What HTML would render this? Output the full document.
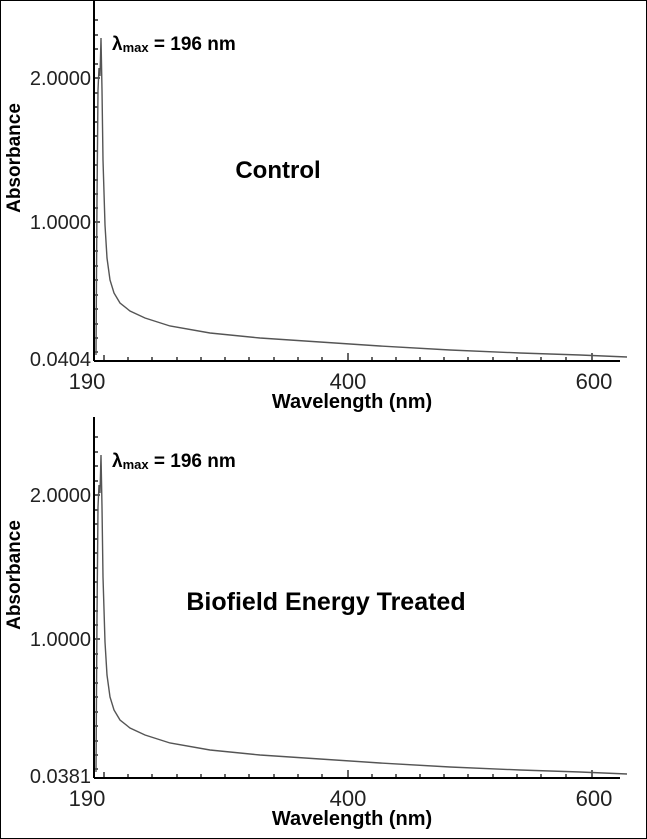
<!DOCTYPE html>
<html><head><style>
body{margin:0;background:#fff;}
svg{display:block;font-family:"Liberation Sans",sans-serif;}
</style></head><body>
<svg width="647" height="839" viewBox="0 0 647 839">
<rect x="0.5" y="0.5" width="646" height="838" fill="#fff" stroke="#000" stroke-width="1"/>
<defs>
<g id="ax">
 <line x1="94" y1="0" x2="94" y2="361" stroke="#000" stroke-width="2"/>
 <line x1="94" y1="361" x2="620" y2="361" stroke="#000" stroke-width="2"/>
 <path d="M94 20h4M94 35h4M94 49h4M94 64h4M94 78h6M94 93h4M94 107h4M94 122h4M94 136h4M94 151h4M94 165h4M94 180h4M94 194h4M94 208h4M94 222h6M94 237h4M94 251h4M94 266h4M94 280h4M94 295h4M94 309h4M94 324h4M94 338h4M94 352h4" stroke="#000" stroke-width="1.2"/>
 <path d="M104 361v-6M128 361v-4M152 361v-4M177 361v-4M201 361v-4M225 361v-4M249 361v-4M274 361v-4M298 361v-4M322 361v-4M348 361v-8M372 361v-4M396 361v-4M420 361v-4M444 361v-4M468 361v-4M493 361v-4M517 361v-4M541 361v-4M566 361v-4M592 361v-8" stroke="#000" stroke-width="1.2"/>
 <path d="M96 355 L97 200 L98 90 L99 68 L100 76 L101 38 L102 90 L103 160 L105 225 L107 258 L110 280 L114 293 L120 303 L130 311 L145 318 L170 326 L210 333 L260 338 L320 342 L380 346 L450 350 L520 353 L580 355 L627 357" fill="none" stroke="#555" stroke-width="1.4"/>
 <text x="112" y="50" font-size="19" font-weight="bold">λ<tspan font-size="13" dy="2">max</tspan><tspan dy="-2"> = 196 nm</tspan></text>
 <text x="91" y="85" font-size="20" text-anchor="end" fill="#222">2.0000</text>
 <text x="91" y="229" font-size="20" text-anchor="end" fill="#222">1.0000</text>
 <text transform="translate(20,158) rotate(-90)" font-size="19" font-weight="bold" text-anchor="middle">Absorbance</text>
 <text x="87" y="389" font-size="22" text-anchor="middle" fill="#222">190</text>
 <text x="348" y="389" font-size="22" text-anchor="middle" fill="#222">400</text>
 <text x="594" y="389" font-size="22" text-anchor="middle" fill="#222">600</text>
 <text x="352" y="408" font-size="20" font-weight="bold" text-anchor="middle">Wavelength (nm)</text>
</g>
</defs>
<use href="#ax"/>
<text x="91" y="366" font-size="20" text-anchor="end" fill="#222">0.0404</text>
<text x="278" y="178" font-size="24" font-weight="bold" text-anchor="middle">Control</text>
<g transform="translate(0,417)"><use href="#ax"/></g>
<text x="91" y="783" font-size="20" text-anchor="end" fill="#222">0.0381</text>
<text x="326" y="610" font-size="25" font-weight="bold" text-anchor="middle">Biofield Energy Treated</text>
</svg>
</body></html>
